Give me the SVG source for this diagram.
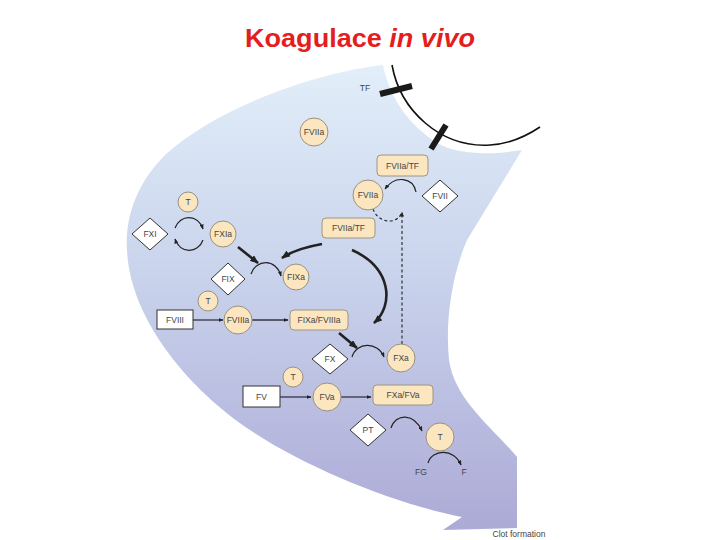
<svg xmlns="http://www.w3.org/2000/svg" width="720" height="540" viewBox="0 0 720 540">
<defs>
<linearGradient id="bg" x1="0" y1="65" x2="0" y2="530" gradientUnits="userSpaceOnUse">
<stop offset="0" stop-color="#e2eef9"/>
<stop offset="0.45" stop-color="#c9d3ec"/>
<stop offset="1" stop-color="#acaad6"/>
</linearGradient>
<marker id="ah" viewBox="0 0 10 8" refX="9" refY="4" markerWidth="5" markerHeight="4" markerUnits="userSpaceOnUse" orient="auto">
<path d="M0,0 L10,4 L0,8 z" fill="#222"/>
</marker>
<marker id="ahb" viewBox="0 0 10 8" refX="9" refY="4" markerWidth="9" markerHeight="7" markerUnits="userSpaceOnUse" orient="auto">
<path d="M0,0 L10,4 L0,8 z" fill="#222"/>
</marker>
<style>
.t{font-family:"Liberation Sans",Arial,sans-serif;font-size:8.5px;fill:#444;text-anchor:middle;dominant-baseline:central}
.c{fill:#fbe6bf;stroke:#9a9080;stroke-width:1}
.b{fill:#fbe6bf;stroke:#a09482;stroke-width:1}
.d{fill:#fff;stroke:#333;stroke-width:1}
.r{fill:#fff;stroke:#333;stroke-width:1}
.a{fill:none;stroke:#222;stroke-width:1.2;marker-end:url(#ah)}
.s{fill:none;stroke:#334;stroke-width:1.3;marker-end:url(#ah)}
.k{fill:none;stroke:#222;stroke-width:2.6;marker-end:url(#ahb)}
.ds{fill:none;stroke:#222;stroke-width:1.1;stroke-dasharray:3,2.5}
</style>
</defs>
<rect width="720" height="540" fill="#fff"/>
<text x="245" y="47" font-family="'Liberation Sans',Arial,sans-serif" font-size="25" font-weight="bold" fill="#e41e1e" textLength="230" lengthAdjust="spacingAndGlyphs">Koagulace <tspan font-style="italic">in vivo</tspan></text>

<g id="background">
<path d="M383,65 C320,72 220,105 165,155 C135,185 125,220 127,250 C130,320 190,390 250,430 C310,470 400,505 462,517 L443,530 L517,528 L517,457 C490,425 455,400 449,360 C445,320 452,275 467,240 L522,150 C490,155 458,155 437,143 C410,125 390,100 383,65 Z" fill="url(#bg)"/>
<path d="M392,65 C400,110 440,148 490,145 C510,144 528,135 540,127" fill="none" stroke="#111" stroke-width="1.6"/>
<line x1="380" y1="94" x2="412" y2="86" stroke="#1a1a1a" stroke-width="6"/>
<line x1="431" y1="149" x2="446" y2="125" stroke="#1a1a1a" stroke-width="6"/>
<text class="t" x="365" y="88">TF</text>
</g>

<g id="connectors">
<path class="a" d="M416,192 C413,177 395,175 385,189"/>
<path class="ds" d="M373,209 C378,223 396,225 401,214"/>
<path class="ds" d="M402,344 L402,212" marker-end="url(#ah)"/>
<path class="a" d="M175,228 C180,214 198,214 203,229"/>
<path class="a" d="M203,240 C198,254 180,254 175,239"/>
<path class="k" d="M238,247 L258,263"/>
<path class="a" d="M251,274 C256,259 276,258 281,276"/>
<path class="k" d="M322,244 C305,247 292,251 282,258"/>
<path class="k" d="M352,250 C392,268 394,305 374,323"/>
<path class="s" d="M193,320 L223,320"/>
<path class="s" d="M252,320 L288,320"/>
<path class="k" d="M339,333 L357,348"/>
<path class="a" d="M352,357 C356,342 378,341 384,357"/>
<path class="s" d="M280,397 L311,397"/>
<path class="s" d="M341,397 L371,397"/>
<path class="a" d="M391,428 C396,413 414,413 422,431"/>
<path class="a" d="M428,463 C432,449 454,448 461,465"/>
</g>

<g id="n-fviia-top"><circle class="c" cx="314" cy="132" r="14"/><text class="t" x="314" y="132">FVIIa</text></g>
<g id="n-fviiatf-top"><rect class="b" x="377" y="155" width="51" height="21" rx="4"/><text class="t" x="402.5" y="165.5">FVIIa/TF</text></g>
<g id="n-fviia-mid"><circle class="c" cx="368" cy="195" r="15"/><text class="t" x="368" y="195">FVIIa</text></g>
<g id="n-fvii"><polygon class="d" points="440,180 458,196 440,212 422,196"/><text class="t" x="440" y="196">FVII</text></g>
<g id="n-fviiatf-mid"><rect class="b" x="322" y="218" width="53" height="20" rx="4"/><text class="t" x="348.5" y="228">FVIIa/TF</text></g>
<g id="n-t1"><circle class="c" cx="188" cy="202" r="10"/><text class="t" x="188" y="202">T</text></g>
<g id="n-fxi"><polygon class="d" points="150,218 168,234 150,250 132,234"/><text class="t" x="150" y="234">FXI</text></g>
<g id="n-fxia"><circle class="c" cx="223" cy="234" r="13"/><text class="t" x="223" y="234">FXIa</text></g>
<g id="n-fix"><polygon class="d" points="228,263 245,279 228,295 211,279"/><text class="t" x="228" y="279">FIX</text></g>
<g id="n-fixa"><circle class="c" cx="296" cy="277" r="13"/><text class="t" x="296" y="277">FIXa</text></g>
<g id="n-t2"><circle class="c" cx="208" cy="301" r="10"/><text class="t" x="208" y="301">T</text></g>
<g id="n-fviii"><rect class="r" x="157" y="310" width="36" height="19"/><text class="t" x="175" y="319.5">FVIII</text></g>
<g id="n-fviiia"><circle class="c" cx="238" cy="320" r="14"/><text class="t" x="238" y="320">FVIIIa</text></g>
<g id="n-fixafviiia"><rect class="b" x="290" y="310" width="58" height="20" rx="4"/><text class="t" x="319" y="320">FIXa/FVIIIa</text></g>
<g id="n-fx"><polygon class="d" points="330,344 348,359 330,374 312,359"/><text class="t" x="330" y="359">FX</text></g>
<g id="n-fxa"><circle class="c" cx="401" cy="358" r="14"/><text class="t" x="401" y="358">FXa</text></g>
<g id="n-t3"><circle class="c" cx="293" cy="377" r="10"/><text class="t" x="293" y="377">T</text></g>
<g id="n-fv"><rect class="r" x="243" y="386" width="37" height="21"/><text class="t" x="261.5" y="396.5">FV</text></g>
<g id="n-fva"><circle class="c" cx="327" cy="397" r="14"/><text class="t" x="327" y="397">FVa</text></g>
<g id="n-fxafva"><rect class="b" x="373" y="385" width="60" height="20" rx="4"/><text class="t" x="403" y="395">FXa/FVa</text></g>
<g id="n-pt"><polygon class="d" points="368,414 386,430 368,446 350,430"/><text class="t" x="368" y="430">PT</text></g>
<g id="n-t4"><circle class="c" cx="440" cy="437" r="14"/><text class="t" x="440" y="437">T</text></g>
<g id="n-fg"><text class="t" x="421" y="472">FG</text></g>
<g id="n-f"><text class="t" x="464" y="472">F</text></g>
<g id="n-clot"><text class="t" x="519" y="534">Clot formation</text></g>
</svg>
